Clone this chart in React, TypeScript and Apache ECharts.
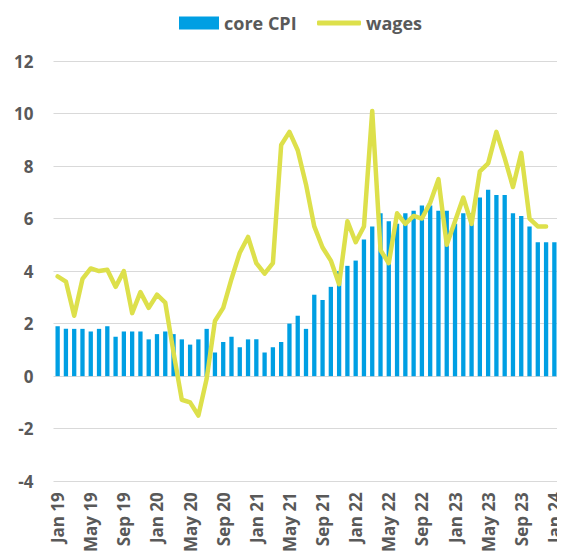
import React, { useEffect, useRef } from "react";
import * as echarts from "echarts";

const monthNames = ["Jan", "Feb", "Mar", "Apr", "May", "Jun", "Jul", "Aug", "Sep", "Oct", "Nov", "Dec"];
const years = ["19", "20", "21", "22", "23", "24"];
const categories: string[] = [];
for (const y of years) {
  for (const m of monthNames) {
    if (y === "24" && m !== "Jan") break;
    categories.push(`${m} ${y}`);
  }
}

const coreCPI = [
  1.9, 1.8, 1.8, 1.8, 1.7, 1.8, 1.9, 1.5, 1.7, 1.7, 1.7, 1.4,
  1.6, 1.7, 1.6, 1.4, 1.2, 1.4, 1.8, 0.9, 1.3, 1.5, 1.1, 1.4,
  1.4, 0.9, 1.1, 1.3, 2.0, 2.3, 1.8, 3.1, 2.9, 3.4, 4.0, 4.2,
  4.4, 5.2, 5.7, 6.2, 5.9, 5.8, 6.2, 6.3, 6.5, 6.5, 6.3, 6.3,
  5.8, 6.2, 6.2, 6.8, 7.1, 6.9, 6.9, 6.2, 6.1, 5.7, 5.1, 5.1,
  5.1,
];

const wages = [
  3.8, 3.6, 2.3, 3.7, 4.1, 4.0, 4.05, 3.4, 4.0, 2.4, 3.2, 2.6,
  3.1, 2.8, 0.9, -0.9, -1.0, -1.5, -0.1, 2.1, 2.6, 3.7, 4.7, 5.3,
  4.3, 3.9, 4.3, 8.8, 9.3, 8.6, 7.3, 5.7, 4.9, 4.4, 3.5, 5.9,
  5.1, 5.7, 10.1, 4.8, 4.3, 6.2, 5.8, 6.1, 6.0, 6.6, 7.5, 5.0,
  5.9, 6.8, 5.8, 7.8, 8.1, 9.3, 8.3, 7.2, 8.5, 6.0, 5.7, 5.7,
  null,
];

const TEXT = "#595959";
const FONT = "'Open Sans', sans-serif";
const BLUE = "#009FE3";
const YELLOW = "#DDE04B";

export default function App() {
  const ref = useRef<HTMLDivElement>(null);
  useEffect(() => {
    if (!ref.current) return;
    const chart = echarts.init(ref.current, null, { renderer: "svg" });
    const legendText = { color: TEXT, fontSize: 18, fontWeight: "bold", fontFamily: FONT };
    chart.setOption({
      animation: false,
      textStyle: { fontFamily: FONT },
      legend: [
        {
          left: 174,
          top: 9,
          itemWidth: 40,
          itemHeight: 13,
          textStyle: legendText,
          data: [{ name: "core CPI", icon: "rect" }],
        },
        {
          left: 312,
          top: 9,
          itemWidth: 44,
          itemHeight: 5,
          textStyle: legendText,
          data: [{ name: "wages", icon: "roundRect", itemStyle: { color: YELLOW } }],
        },
      ],
      grid: { left: 53.5, right: 6.5, top: 61, bottom: 73.3, containLabel: false },
      xAxis: {
        type: "category",
        data: categories,
        boundaryGap: true,
        axisLine: { show: false },
        axisTick: { show: false },
        axisLabel: {
          interval: 3,
          rotate: 90,
          margin: 11,
          color: TEXT,
          fontSize: 17,
          fontWeight: "bold",
          fontFamily: FONT,
        },
      },
      yAxis: {
        type: "value",
        min: -4,
        max: 12,
        interval: 2,
        axisLine: { show: false },
        axisTick: { show: false },
        splitLine: { lineStyle: { color: "#d9d9d9", width: 1 } },
        axisLabel: {
          margin: 20,
          color: TEXT,
          fontSize: 17,
          fontWeight: "bold",
          fontFamily: FONT,
        },
      },
      series: [
        {
          name: "core CPI",
          type: "bar",
          data: coreCPI,
          barWidth: "52%",
          itemStyle: { color: BLUE },
        },
        {
          name: "wages",
          type: "line",
          data: wages,
          symbol: "none",
          showSymbol: false,
          lineStyle: { color: YELLOW, width: 4.5, cap: "round", join: "round" },
          itemStyle: { color: YELLOW },
        },
      ],
    });
    return () => chart.dispose();
  }, []);
  return <div ref={ref} style={{ width: 565, height: 555, marginLeft: -8, marginTop: -8 }} />;
}
